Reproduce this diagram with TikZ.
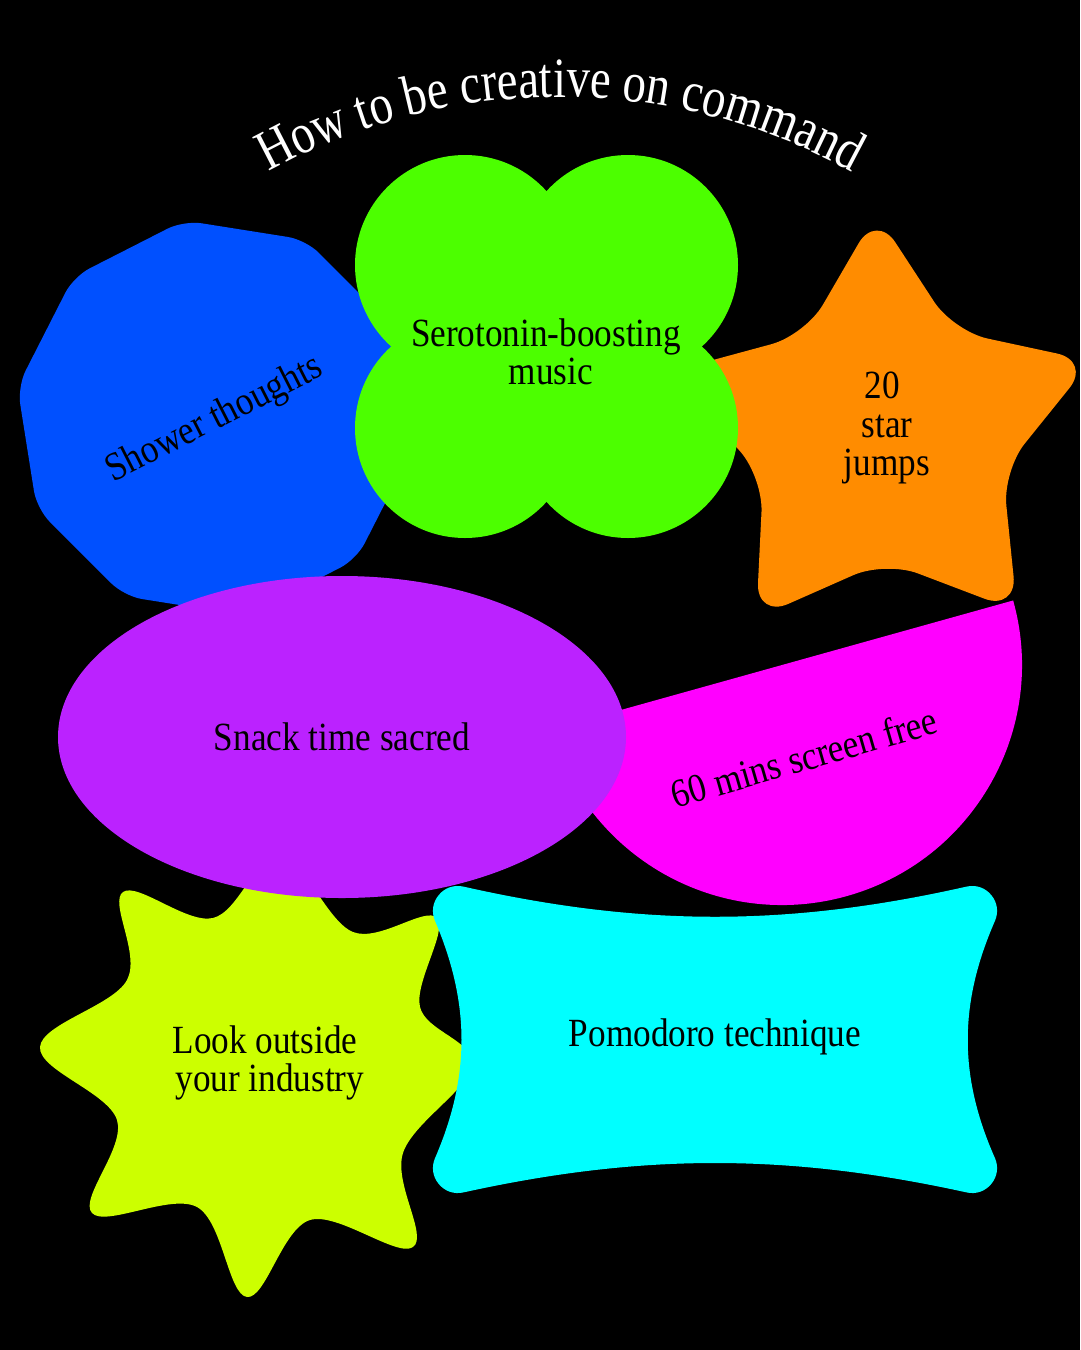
\documentclass[tikz,border=0pt]{standalone}
\usepackage{fontspec}
\setmainfont[FakeStretch=0.88]{Liberation Serif}
\newfontfamily\mytitlefamily[FakeStretch=0.82]{Liberation Serif}
\usetikzlibrary{shapes.geometric,decorations.text}
\definecolor{cblue}{RGB}{0,80,255}
\definecolor{cgreen}{RGB}{76,255,0}
\definecolor{corange}{RGB}{255,140,0}
\definecolor{cpurple}{RGB}{187,34,255}
\definecolor{cmagenta}{RGB}{255,0,255}
\definecolor{cyellow}{RGB}{204,255,0}
\definecolor{ccyan}{RGB}{0,255,255}
\newcommand\mytitlefont{\mytitlefamily\fontsize{57}{57}\selectfont}
\begin{document}
\begin{tikzpicture}[x=1pt,y=-1pt,
  txt/.style={text=black, font=\fontsize{40}{38.5}\selectfont, align=center, inner sep=0pt}]
\fill[black] (0,0) rectangle (1080,1350);
\useasboundingbox (0,0) rectangle (1080,1350);
% magenta half disc
\fill[cmagenta] (782,665) ++(-15.6:240) arc[start angle=-15.6, end angle=164.4, radius=240] -- cycle;
% orange star
\fill[corange, rounded corners=35] (840.75,274.05) -- (876.2,213.1) -- (953.4,331.2) -- (1091.3,360.9) -- (1002.8,470.8) -- (1017.1,611.1) -- (885.3,561.0) -- (756.3,618.0) -- (763.2,477.1) -- (669.1,371.9) -- (805.3,335.0) -- cycle;
% blue polygon
\node[regular polygon, regular polygon sides=10, minimum size=400, fill=cblue, rounded corners=18, rotate=27, inner sep=0pt, outer sep=0pt] (shower) at (215,418) {};
% green clover
\fill[cgreen] (465,265) circle[radius=110];
\fill[cgreen] (628,265) circle[radius=110];
\fill[cgreen] (465,428) circle[radius=110];
\fill[cgreen] (628,428) circle[radius=110];
\fill[cgreen] (465,265) rectangle (628,428);
% yellow starburst
\fill[cyellow] plot[smooth cycle, tension=0.6] coordinates {
 (123,892) (213,918) (280,855) (353,932) (437,918) (420,1007) (472,1065) (403,1153)
 (413,1247) (310,1220) (247,1297) (197,1207) (92,1213) (117,1120) (40,1047) (127,980)};
% purple ellipse
\fill[cpurple] (342,737) ellipse[x radius=284, y radius=161];
% cyan pinched rectangle
\filldraw[ccyan, line width=50, line join=round] (458,911) .. controls (640,952) and (790,952) .. (972,911) .. controls (933,1000) and (933,1080) .. (972,1168) .. controls (790,1128) and (640,1128) .. (458,1168) .. controls (496,1080) and (496,1000) .. (458,911) -- cycle;
% title
\path[decorate, decoration={text along path, text align=center, text={|\mytitlefont\color{white}|How to be creative on command}}] (560,702) ++(-125:605) arc[start angle=-125, end angle=-55, radius=605];
% labels
\node[txt, rotate=27] (tshower) at (215,420) {Shower thoughts};
\node[txt] (tmusic) at (546,352) {Serotonin-boosting\\\hspace*{.25em}music};
\node[txt] (tstar) at (882,428) {20\\\hspace*{.25em}star\\\hspace*{.25em}jumps};
\node[txt] (tsnack) at (342,737) {Snack time sacred};
\node[txt, rotate=16] (tscreen) at (804,757) {60 mins screen free};
\node[txt] (tlook) at (265,1063) {Look outside\\\hspace*{.25em}your industry};
\node[txt] (tpomo) at (715,1037) {Pomodoro technique};
\end{tikzpicture}
\end{document}
